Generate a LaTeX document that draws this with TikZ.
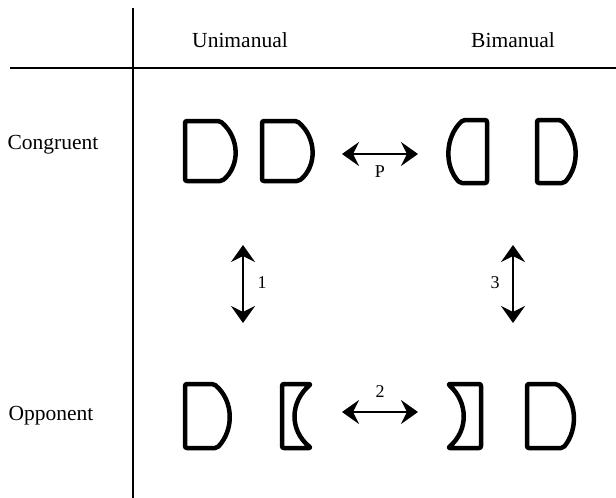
\documentclass[tikz,border=0pt]{standalone}
\usepackage{fontspec}
\setmainfont{Liberation Serif}
\usetikzlibrary{arrows.meta}
\begin{document}
\begin{tikzpicture}[x=1pt,y=-1pt,
  axis/.style={line width=2pt},
  lens/.style={line width=4.5pt, line join=round, rounded corners=2pt},
  dbl/.style={line width=2.2pt, {Stealth[length=17pt,width=24pt,inset=6pt]}-{Stealth[length=17pt,width=24pt,inset=6pt]}},
  hdr/.style={font=\fontsize{21.5}{24}\selectfont, inner sep=0pt},
  lbl/.style={font=\fontsize{18}{20}\selectfont, inner sep=0pt}]
\useasboundingbox (0,0) rectangle (616,498);
% axes
\coordinate (vt) at (133,8);
\coordinate (vb) at (133,498);
\coordinate (hl) at (10,68);
\coordinate (hr) at (616,68);
\draw[axis] (vt) -- (vb);
\draw[axis] (hl) -- (hr);
% headers
\node[hdr] (uni) at (240,40) {Unimanual};
\node[hdr] (bi) at (513,40) {Bimanual};
\node[hdr] (cong) at (53,145) {Congruent};
\node[hdr] (opp) at (51,416) {Opponent};
% congruent unimanual
\draw[lens] (185,121) -- (220,121) .. controls (240,138) and (240,166) .. (222,181) -- (185,181) -- cycle;
\draw[lens] (262,121) -- (297,121) .. controls (317,138) and (317,166) .. (299,181) -- (262,181) -- cycle;
% congruent bimanual
\draw[lens] (487,120) -- (463,120) .. controls (445,137) and (444,166) .. (460,183) -- (487,183) -- cycle;
\draw[lens] (537,120) -- (561,120) .. controls (579,137) and (580,166) .. (564,183) -- (537,183) -- cycle;
% opponent unimanual
\draw[lens] (185,384) -- (214,384) .. controls (234,401) and (234,430) .. (217,448) -- (185,448) -- cycle;
\draw[lens] (282,384) -- (311,384) .. controls (290,402) and (289,430) .. (311,448) -- (282,448) -- cycle;
% opponent bimanual
\draw[lens] (481,384) -- (448,384) .. controls (468,402) and (469,430) .. (448,448) -- (481,448) -- cycle;
\draw[lens] (527,384) -- (557,384) .. controls (578,401) and (578,430) .. (563,448) -- (527,448) -- cycle;
% arrows
\coordinate (pL) at (342,154);
\coordinate (pR) at (418,154);
\draw[dbl] (pL) -- (pR);
\node[lbl] (P) at (380,172) {P};
\coordinate (tL) at (342,412);
\coordinate (tR) at (418,412);
\draw[dbl] (tL) -- (tR);
\node[lbl] (two) at (380,392) {2};
\coordinate (oT) at (243,245);
\coordinate (oB) at (243,323);
\draw[dbl] (oT) -- (oB);
\node[lbl] (one) at (262,283) {1};
\coordinate (hT) at (513,245);
\coordinate (hB) at (513,323);
\draw[dbl] (hT) -- (hB);
\node[lbl] (three) at (495,283) {3};
\end{tikzpicture}
\end{document}
